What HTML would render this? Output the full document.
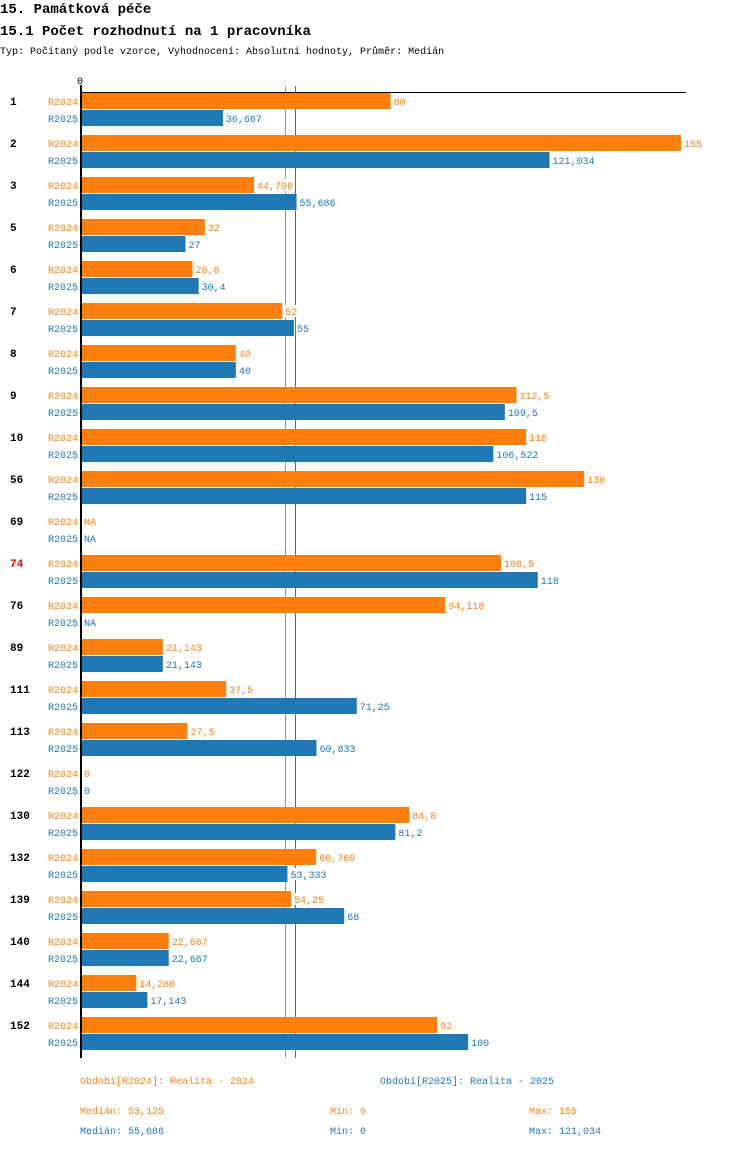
<!DOCTYPE html>
<html><head><meta charset="utf-8"><style>
body{margin:0;background:#fff;width:750px;height:1148px;overflow:hidden;font-family:"Liberation Mono",monospace}
text{font-family:"Liberation Mono",monospace}
</style></head><body>
<svg id="c" width="750" height="1148">
<text x="0" y="13" font-size="14" font-weight="bold">15. Památková péče</text>
<text x="0" y="35" font-size="14" font-weight="bold">15.1 Počet rozhodnutí na 1 pracovníka</text>
<text x="0" y="54" font-size="10">Typ: Počítaný podle vzorce, Vyhodnocení: Absolutní hodnoty, Průměr: Medián</text>
</svg>
<script>
const groups=["1","2","3","5","6","7","8","9","10","56","69","74","76","89","111","113","122","130","132","139","140","144","152"];
const v2024=[80,155,44.706,32,28.8,52,40,112.5,115,130,null,108.5,94.118,21.143,37.5,27.5,0,84.8,60.769,54.25,22.667,14.286,92];
const v2025=[36.667,121.034,55.686,27,30.4,55,40,109.5,106.522,115,null,118,null,21.143,71.25,60.833,0,81.2,53.333,68,22.667,17.143,100];
const medians=[53.125,55.686];
const mins=[0,0];
const maxs=["155","121,034"];
const seriesNames=["R2024","R2025"];
const colors=["#ff7f0e","#1f77b4"];
const svg=document.getElementById('c');
const NS="http://www.w3.org/2000/svg";
const x=v=>81+v*600/155;
const y0=93,gap=42,bh=16;
function mk(t,a,txt){const e=document.createElementNS(NS,t);for(const k in a)e.setAttribute(k,a[k]);if(txt!=null)e.textContent=txt;svg.appendChild(e);return e;}
const fmt=v=>v==null?"NA":String(v).replace('.',',');
medians.forEach((m,s)=>{
 const mx=Math.floor(x(m))-0.5;
 let l=mk('line',{x1:mx,y1:86,x2:mx,y2:1058,stroke:colors[s],'stroke-width':1});
 
 
});
let e=mk('text',{x:77,y:84,'font-size':10},"0");


e=mk('line',{x1:80,y1:92.5,x2:686,y2:92.5,stroke:'#000','stroke-width':1});


groups.forEach((g,i)=>{
 const gy=y0+i*gap;
 let t=mk('text',{x:10,y:gy+12,'font-size':11,'font-weight':'bold',fill:g==="74"?"#e00":"#000"},g);
 
 
 [v2024,v2025].forEach((arr,s)=>{
  const by=gy+s*(bh+1);const v=arr[i];
  let l=mk('text',{x:78,y:by+12,'font-size':10,fill:colors[s],'text-anchor':'end'},seriesNames[s]);
  
  
  if(v!=null&&v>0){
   let r=mk('rect',{x:81,y:by,width:x(v)-81,height:bh,fill:colors[s]});
   
   
  }
  const tx=(v==null?81:x(v))+3;
  let bg=mk('rect',{x:tx-1,y:by+2,width:fmt(v).length*6+2,height:12,fill:'#fff'});
  
  
  let vt=mk('text',{x:tx,y:by+12,'font-size':10,fill:colors[s]},fmt(v));
  
  
 });
});
e=mk('line',{x1:81,y1:85,x2:81,y2:1058,stroke:'#000','stroke-width':2});


const legends=["Období[R2024]: Realita - 2024","Období[R2025]: Realita - 2025"];
legends.forEach((t,s)=>{
 let l=mk('text',{x:s?380:80,y:1084,'font-size':10,fill:colors[s]},t);
 
 
 let a=mk('text',{x:80,y:1114+s*20,'font-size':10,fill:colors[s]},"Medián: "+fmt(medians[s]));
 
 
 let b=mk('text',{x:330,y:1114+s*20,'font-size':10,fill:colors[s]},"Min: "+mins[s]);
 
 
 let c=mk('text',{x:529,y:1114+s*20,'font-size':10,fill:colors[s]},"Max: "+maxs[s]);
 
 
});
</script>
</body></html>
